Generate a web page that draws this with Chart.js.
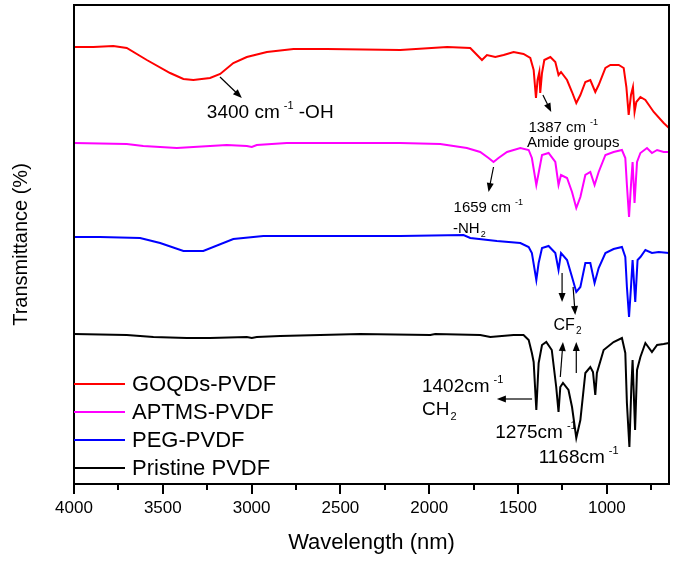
<!DOCTYPE html>
<html>
<head>
<meta charset="utf-8">
<script src="https://cdn.jsdelivr.net/npm/chart.js@4.4.1/dist/chart.umd.min.js"></script>
<style>
    html, body { margin: 0; padding: 0; background: #fff; }
    #wrap { width: 675px; height: 562px; }
</style>
</head>
<body>
<div id="wrap"><canvas id="ftir"></canvas></div>
<script>
// wavenumber (cm-1) and offset transmittance (arbitrary units, curves stacked)
const goqdsX = [4000, 3891, 3779, 3703, 3590, 3459, 3384, 3328, 3234, 3177, 3103, 3027, 2914, 2764, 2576, 2163, 1899, 1769, 1703, 1675, 1628, 1581, 1525, 1469, 1431, 1412, 1399, 1390, 1380, 1375, 1365, 1352, 1318, 1290, 1272, 1258, 1224, 1196, 1172, 1149, 1121, 1093, 1065, 1046, 1008, 980, 933, 905, 890, 877, 864, 853, 844, 834, 811, 783, 736, 680, 650];
const goqdsY = [437, 437, 438, 436, 424, 411, 405, 404, 406, 410, 421, 427, 432, 435, 435, 434, 437, 436, 424, 429, 427, 429, 432, 430, 426, 414, 386, 404, 412, 391, 411, 424, 427, 422, 409, 412, 404, 392, 381, 389, 402, 404, 392, 399, 416, 419, 419, 416, 397, 369, 389, 397, 372, 382, 387, 384, 372, 361, 356];

const aptmsX = [4000, 3703, 3610, 3515, 3421, 3328, 3140, 3027, 2999, 2971, 2802, 2163, 1938, 1788, 1713, 1666, 1638, 1610, 1562, 1487, 1440, 1422, 1397, 1384, 1365, 1328, 1290, 1272, 1258, 1224, 1196, 1172, 1149, 1121, 1093, 1069, 1046, 1008, 962, 915, 896, 887, 875, 864, 855, 844, 830, 811, 774, 746, 717, 680, 650];
const aptmsY = [341, 340, 338, 337, 336, 337, 339, 338, 337, 339, 341, 341, 340, 336, 332, 326, 322, 326, 332, 336, 334, 326, 299, 311, 329, 331, 322, 299, 309, 306, 292, 276, 287, 309, 312, 299, 312, 329, 332, 334, 326, 299, 267, 299, 322, 281, 322, 331, 336, 331, 334, 332, 332];

const pegX = [4000, 3854, 3628, 3515, 3384, 3272, 3103, 2934, 2163, 1807, 1769, 1619, 1487, 1440, 1422, 1397, 1384, 1365, 1328, 1290, 1272, 1258, 1224, 1196, 1172, 1149, 1121, 1093, 1069, 1046, 1008, 962, 915, 896, 887, 875, 864, 855, 840, 827, 811, 783, 746, 708, 650];
const pegY = [247, 247, 246, 241, 233, 233, 245, 248, 248, 249, 246, 243, 241, 237, 231, 204, 221, 236, 238, 231, 214, 231, 224, 207, 192, 197, 221, 221, 201, 216, 231, 235, 237, 227, 197, 167, 197, 224, 182, 224, 227, 234, 231, 232, 231];

const pristineX = [4000, 3703, 3553, 3365, 3234, 3027, 2999, 2971, 2839, 2389, 1994, 1966, 1713, 1656, 1525, 1469, 1440, 1422, 1412, 1397, 1384, 1365, 1341, 1310, 1285, 1272, 1262, 1247, 1216, 1196, 1172, 1149, 1121, 1093, 1078, 1065, 1056, 1018, 962, 915, 896, 887, 873, 862, 855, 841, 830, 811, 783, 746, 717, 680, 650];
const pristineY = [150, 149, 147, 146, 146, 147, 146, 147, 148, 150, 149, 150, 149, 147, 149, 149, 144, 131, 122, 74, 121, 139, 142, 134, 97, 72, 97, 101, 94, 77, 46, 64, 111, 117, 112, 89, 111, 134, 142, 146, 131, 81, 37, 97, 124, 54, 114, 127, 141, 132, 139, 140, 141];

const seriesNames = ['GOQDs-PVDF', 'APTMS-PVDF', 'PEG-PVDF', 'Pristine PVDF'];
const seriesColors = ['#ff0000', '#ff00ff', '#0000ff', '#000000'];

const xMajorTicks = [4000, 3500, 3000, 2500, 2000, 1500, 1000];
const xMinorTicks = [3750, 3250, 2750, 2250, 1750, 1250, 750];

const FONT = '"Liberation Sans", Arial, sans-serif';

// peak labels, placed in data units (wavenumber, offset value)
const notes = [
    { w: 3252, v: 366, size: 19, parts: [['3400 cm'], ['-1', 'sup'], [' -OH']] },
    { w: 1441, v: 352, size: 15, parts: [['1387 cm'], ['-1', 'sup']] },
    { w: 1450, v: 337, size: 15, parts: [['Amide groups']] },
    { w: 1863, v: 272, size: 15, parts: [['1659 cm'], ['-1', 'sup']] },
    { w: 1866, v: 251, size: 15, parts: [['-NH'], ['2', 'sub']] },
    { w: 1300, v: 154, size: 16, parts: [['CF'], ['2', 'sub']] },
    { w: 2041, v: 92, size: 19, parts: [['1402cm'], ['-1', 'sup']] },
    { w: 2041, v: 69, size: 19, parts: [['CH'], ['2', 'sub']] },
    { w: 1628, v: 46, size: 19, parts: [['1275cm'], ['-1', 'sup']] },
    { w: 1384, v: 21, size: 19, parts: [['1168cm'], ['-1', 'sup']] }
];

const arrows = [
    { from: [3178, 407], to: [3055, 386] },
    { from: [1360, 389], to: [1313, 372] },
    { from: [1638, 317], to: [1666, 292] },
    { from: [1252, 211], to: [1252, 182] },
    { from: [1190, 197], to: [1178, 169] },
    { from: [1262, 107], to: [1247, 142] },
    { from: [1172, 111], to: [1172, 142] },
    { from: [1421, 85], to: [1619, 85] }
];

const toPoints = function (xs, ys) {
    return xs.map((x, i) => ({ x: x, y: ys[i] }));
};

const drawRich = function (ctx, x, y, parts, size) {
    let cx = x;
    ctx.textBaseline = 'alphabetic';
    ctx.textAlign = 'left';
    for (const [t, mode] of parts) {
        let fs = size, dy = 0;
        if (mode === 'sup') { fs = Math.round(size * 0.6); dy = -size * 0.45; cx += 4; }
        if (mode === 'sub') { fs = Math.round(size * 0.6); dy = size * 0.28; cx += 1; }
        ctx.font = fs + 'px ' + FONT;
        ctx.fillText(t, cx, y + dy);
        cx += ctx.measureText(t).width;
    }
};

const drawArrow = function (ctx, x1, y1, x2, y2) {
    const ang = Math.atan2(y2 - y1, x2 - x1);
    const len = 9, half = 3.5;
    ctx.beginPath();
    ctx.moveTo(x1, y1);
    ctx.lineTo(x2 - Math.cos(ang) * len * 0.8, y2 - Math.sin(ang) * len * 0.8);
    ctx.stroke();
    ctx.beginPath();
    ctx.moveTo(x2, y2);
    ctx.lineTo(x2 - Math.cos(ang) * len - Math.sin(ang) * half, y2 - Math.sin(ang) * len + Math.cos(ang) * half);
    ctx.lineTo(x2 - Math.cos(ang) * len + Math.sin(ang) * half, y2 - Math.sin(ang) * len - Math.cos(ang) * half);
    ctx.closePath();
    ctx.fill();
};

// frame, ticks, inside legend and peak labels
const decorations = {
    id: 'decorations',
    afterDatasetsDraw(chart) {
        const { ctx, chartArea: a, scales: { x, y } } = chart;
        ctx.save();
        ctx.strokeStyle = '#000';
        ctx.fillStyle = '#000';

        ctx.lineWidth = 2;
        ctx.strokeRect(a.left, a.top, a.right - a.left, a.bottom - a.top);

        for (const t of xMajorTicks.concat(xMinorTicks)) {
            const px = Math.round(x.getPixelForValue(t));
            const l = xMajorTicks.includes(t) ? 10 : 6;
            ctx.beginPath();
            ctx.moveTo(px, a.bottom);
            ctx.lineTo(px, a.bottom + l);
            ctx.stroke();
        }

        // legend in lower left corner
        const rows = [100, 72, 44, 16];
        chart.data.datasets.forEach((ds, i) => {
            const ly = a.bottom - rows[i];
            ctx.strokeStyle = ds.borderColor;
            ctx.lineWidth = 2;
            ctx.beginPath();
            ctx.moveTo(a.left, ly);
            ctx.lineTo(a.left + 51, ly);
            ctx.stroke();
            ctx.fillStyle = '#000';
            ctx.font = '22px ' + FONT;
            ctx.textBaseline = 'middle';
            ctx.textAlign = 'left';
            ctx.fillText(ds.label, a.left + 58, ly + 1);
        });

        ctx.fillStyle = '#000';
        ctx.strokeStyle = '#000';
        for (const n of notes) {
            drawRich(ctx, x.getPixelForValue(n.w), y.getPixelForValue(n.v), n.parts, n.size);
        }
        ctx.lineWidth = 1.2;
        for (const ar of arrows) {
            drawArrow(ctx,
                x.getPixelForValue(ar.from[0]), y.getPixelForValue(ar.from[1]),
                x.getPixelForValue(ar.to[0]), y.getPixelForValue(ar.to[1]));
        }
        ctx.restore();
    }
};

const allX = [goqdsX, aptmsX, pegX, pristineX];
const allY = [goqdsY, aptmsY, pegY, pristineY];

new Chart(document.getElementById('ftir'), {
    type: 'line',
    data: {
        datasets: seriesNames.map((name, i) => ({
            label: name,
            data: toPoints(allX[i], allY[i]),
            borderColor: seriesColors[i],
            borderWidth: 2,
            pointRadius: 0,
            tension: 0,
            fill: false
        }))
    },
    plugins: [decorations],
    options: {
        responsive: true,
        maintainAspectRatio: false,
        animation: false,
        layout: { padding: { top: 5, right: 6, left: 0, bottom: 0 } },
        plugins: {
            legend: { display: false },
            tooltip: { enabled: false }
        },
        scales: {
            x: {
                type: 'linear',
                reverse: true,
                min: 650,
                max: 4000,
                afterBuildTicks: (axis) => {
                    axis.ticks = xMajorTicks.concat(xMinorTicks)
                        .sort((a, b) => b - a)
                        .map(v => ({ value: v }));
                },
                afterFit: (axis) => { axis.height = 78; },
                grid: { display: false, drawTicks: true, tickLength: 10 },
                border: { display: false },
                ticks: {
                    autoSkip: false,
                    maxRotation: 0,
                    padding: 4,
                    color: '#000',
                    font: { family: FONT, size: 17 },
                    callback: (value) => xMajorTicks.includes(value) ? String(value) : ''
                },
                title: {
                    display: true,
                    text: 'Wavelength (nm)',
                    color: '#000',
                    font: { family: FONT, size: 22 },
                    padding: { top: 0, bottom: 6 }
                }
            },
            y: {
                min: 0,
                max: 479,
                afterFit: (axis) => { axis.width = 74; },
                grid: { display: false, drawTicks: false },
                border: { display: false },
                ticks: { display: false },
                title: {
                    display: true,
                    text: 'Transmittance (%)',
                    color: '#000',
                    font: { family: FONT, size: 20 },
                    padding: { top: 9, bottom: 0 }
                }
            }
        }
    }
});
</script>
</body>
</html>
